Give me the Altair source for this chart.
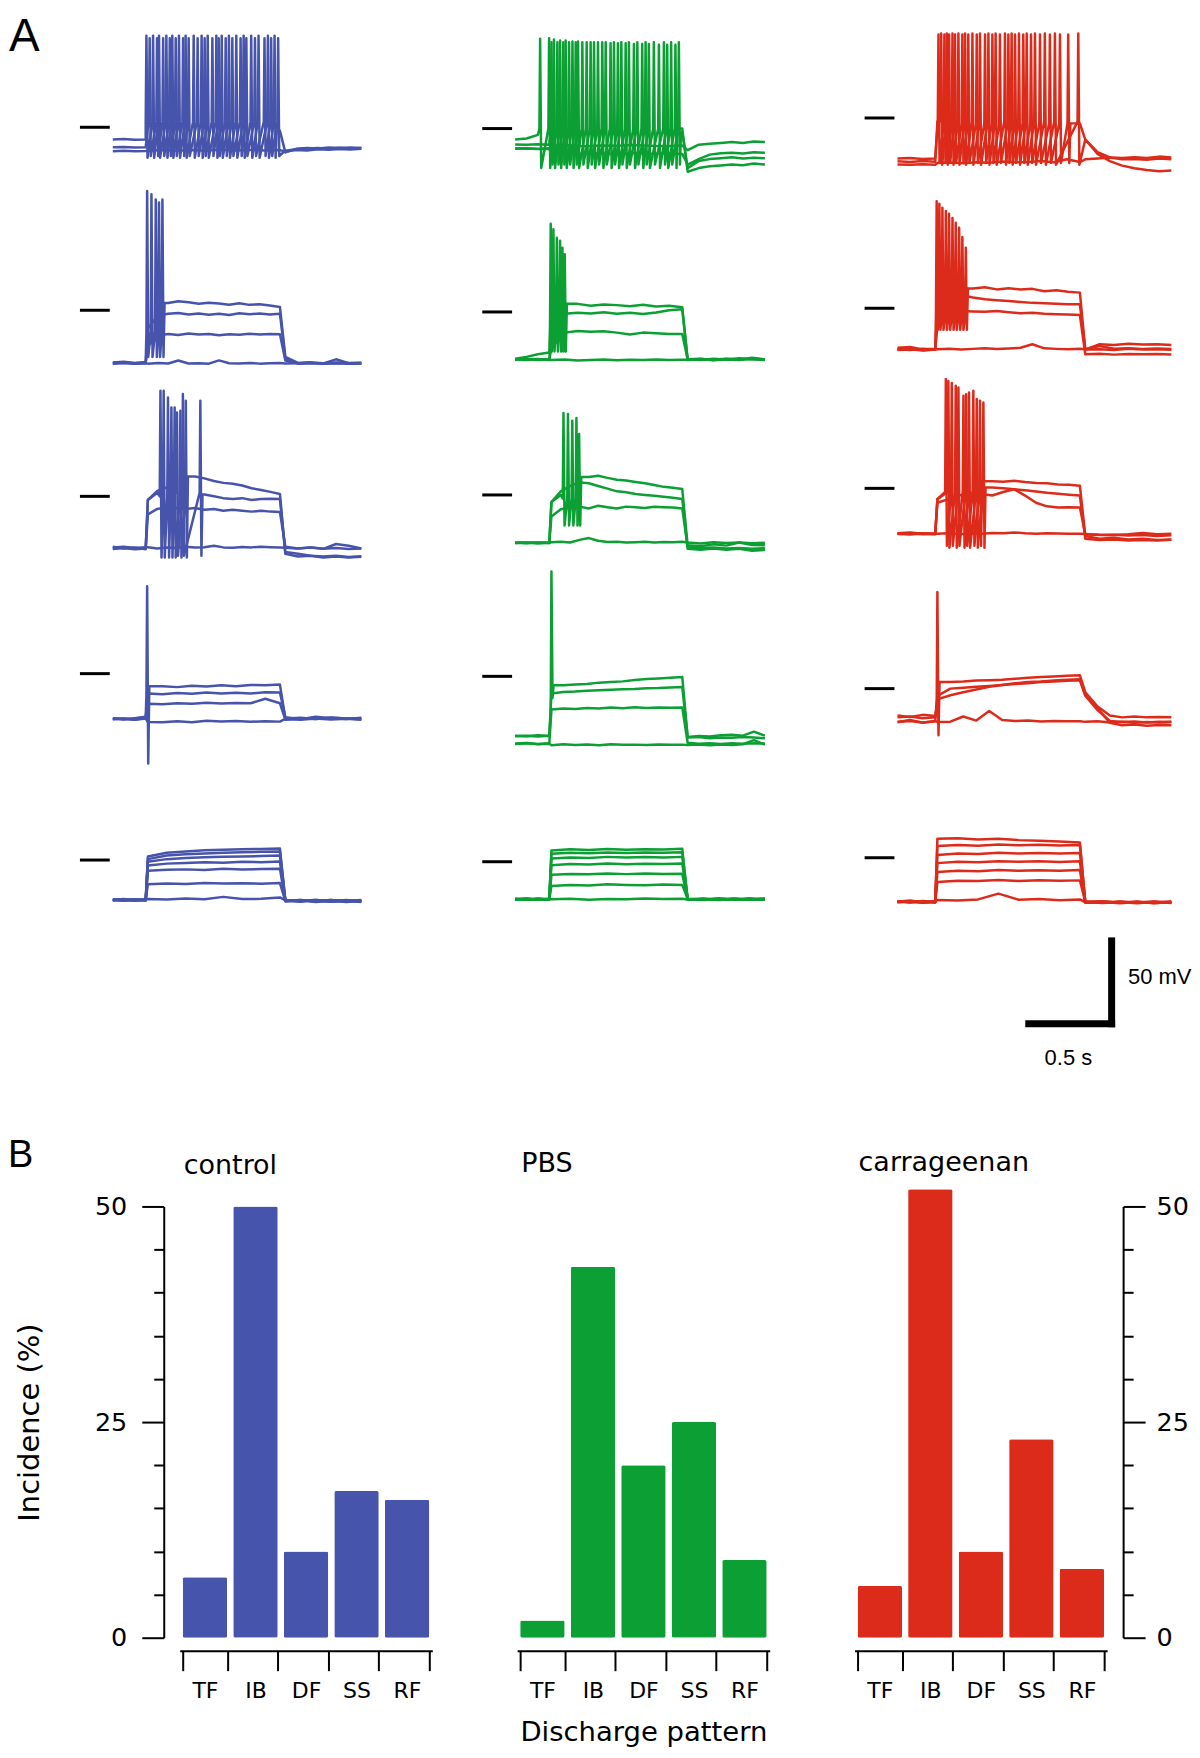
import altair as alt
import numpy as np
import pandas as pd

# ======================= Panel B data =======================
PATTERNS = ["TF", "IB", "DF", "SS", "RF"]
INC_CONTROL = [7, 50, 10, 17, 16]
INC_PBS = [2, 43, 20, 25, 9]
INC_CARRAGEENAN = [6, 52, 10, 23, 8]

# ======================= Panel A data =======================
# sweep timing (s) per group: step on, step off, end of sweep
STEP_ON = [0.183, 0.19, 0.21]
STEP_OFF = [0.93, 0.93, 1.015]
SWEEP_END = [1.383, 1.39, 1.524]
MARK_V = -60.0          # level of the short black reference bars (mv)
MARK_T = (-0.183, -0.017)


def tr(pre, plat, post, spikes=(), peaks=0.0, thr=0.0, ahp=0.0):
    return dict(pre=pre, plat=plat, post=post, spikes=list(spikes), peaks=peaks, thr=thr, ahp=ahp)


# ---- control (blue) ----
CONTROL_ROWS = [
    [
        tr([-66.8, -66.5, -66.9, -66.8], [-58, -62], [-74, -72, -71.5, -71.8, -71.2, -71.6, -71.3, -71.5],
           [0.187, 0.224, 0.257, 0.298, 0.331, 0.368, 0.405, 0.45, 0.494, 0.528, 0.576, 0.606, 0.646, 0.687,
            0.728, 0.77, 0.811, 0.863, 0.9], -9, -57, -77),
        tr([-71.1, -71, -71.3, -71.1], [-60, -62.5], [-73, -72.2, -71.8, -71.5, -72, -71.4, -71.8, -71.5],
           [0.205, 0.246, 0.28, 0.317, 0.35, 0.391, 0.422, 0.472, 0.511, 0.554, 0.589, 0.628, 0.665, 0.711,
            0.743, 0.791, 0.844, 0.881, 0.92], -10.5, -57, -76),
        tr([-73.3, -73.1, -73.4, -73.2], [-73, -72.6, -73.1, -72.7, -73, -72.5, -72.9, -72.6, -72.9, -72.7],
           [-73.5, -72.6, -72.9, -72.2, -72.5, -72.1, -72.4, -72.0]),
    ],
    [
        tr([-89, -88.6, -89.4, -88.8],
           [-70, -58, -56, -55, -55.6, -56.4, -55.8, -56.2, -56.9, -56.1, -57, -56.6, -57.4, -58.2],
           [-86, -89.3, -89, -89.5, -89.1, -89.4, -89.2],
           [0.191, 0.215, 0.239, 0.257, 0.276], [6.3, 4.5, 1.7, 0, 1.7], -72, -86),
        tr([-89.3, -89, -89.5, -89.2],
           [-70, -63, -62, -61.5, -62.3, -61.8, -62.5, -62, -62.6, -61.7, -62.2, -61.8, -62.4, -61.9],
           [-87, -89.5, -89.2, -89.6, -89.3, -89.5, -89.4]),
        tr([-89.5, -89.2, -89.6, -89.3],
           [-80, -74, -73.2, -73.8, -72.9, -73.5, -73.2, -73.9, -73.3, -73.6, -73.1, -73.5, -73.2, -73.4],
           [-88, -89.7, -89.4, -89.8, -89.5, -89.7, -89.6]),
        tr([-89.7, -89.4, -89.8, -89.5],
           [-89.7, -89.4, -89.6, -88, -89.6, -89.5, -89.7, -87.9, -89.5, -89.6, -89.3, -89.7, -89.5, -89.4],
           [-89.6, -89.5, -89.4, -89.6, -87.3, -89.5, -89.6]),
    ],
    [
        tr([-88, -89, -88.5, -89.5],
           [-62, -58, -55, -52, -50, -49, -50, -51.5, -52.5, -53, -54, -55.5, -56.5, -57.5, -58.7],
           [-92, -93.5, -93, -94, -93.5, -94, -93.6],
           [0.265, 0.283, 0.307, 0.326, 0.344, 0.376, 0.406], [-1.3, -1.3, -5, -10.6, -10.6, -12.4, -6.8], -60, -94),
        tr([-89, -88.4, -89.2, -88.7],
           [-62, -57, -55, -54, -55, -57, -59, -60, -61, -61.5, -61, -62, -61.5, -61.4, -61.5],
           [-91, -92, -93, -93.5, -93, -93.8, -93.4],
           [0.357, 0.39, 0.487], [-13.3, -3.1, -6.8], -58, -93),
        tr([-89.3, -88.8, -89.5, -89],
           [-70, -67, -66, -66.5, -67, -66.5, -67.5, -67, -68, -67.5, -68, -68.5, -68, -68.5, -68.7],
           [-88, -89, -88.5, -89.2, -86.5, -87.5, -89]),
        tr([-88.5, -88, -88.8, -88.3],
           [-88.3, -89, -88.5, -88.7, -88, -88.5, -88.3, -87.5, -88.4, -88.6, -88.2, -88.4, -88, -88.3, -88.5],
           [-88.6, -89, -88.4, -89.1, -88.7, -89.3, -89]),
    ],
    [
        tr([-85, -85.5, -84.8, -84], [-67.4, -67, -67.5, -66.8, -67.2, -66.5, -67, -66.3, -66.5, -66.1],
           [-85, -84.5, -85.2, -84.6, -85, -84.8], [0.191], [-11.3], -72, -110),
        tr([-85.2, -85, -85.6, -84.5], [-71.1, -71.5, -70.8, -71.2, -70.5, -71, -70.6, -71, -70.4, -70.5],
           [-84.3, -85.4, -84, -84.8, -85.2, -84.6]),
        tr([-84.8, -85.3, -85, -84.2], [-76.7, -77, -76.5, -76.8, -76.2, -76.6, -76.3, -76.5, -74, -76.5],
           [-85.6, -84.9, -85.3, -84.4, -85, -85.4]),
        tr([-85.4, -85.1, -85.7, -85], [-86.9, -87, -86.5, -87, -86.2, -86.6, -86.4, -86.8, -86.5, -86.7],
           [-85.2, -85.7, -84.9, -85.5, -85.1, -85.6]),
    ],
    [
        tr([-82.2, -81.8, -82.5, -82.0], [-81.7, -81.9, -81.4, -81.8, -80.5, -81.7, -81.6, -80.8],
           [-82.4, -83.0, -82.1, -83.2, -82.6, -83.4]),
        tr([-82.5, -82.0, -82.3, -81.8], [-73.5, -73, -73.3, -72.8, -73.1, -72.9, -73.2, -72.8],
           [-82.8, -82.2, -83.1, -82.5, -83.3, -82.7]),
        tr([-81.9, -82.4, -82.0, -82.6], [-66, -65.4, -65.2, -65.5, -64.9, -65.3, -65, -64.8],
           [-83.0, -82.5, -82.9, -82.2, -83.1, -82.6]),
        tr([-82.3, -81.7, -82.4, -82.1], [-63, -62, -61.6, -61.3, -61.5, -61, -61.2, -60.8],
           [-82.6, -83.2, -82.4, -82.9, -82.3, -83.0]),
        tr([-82.0, -82.5, -81.8, -82.3], [-61, -59.5, -58.9, -58.5, -58.2, -58, -57.8, -57.5],
           [-82.9, -82.3, -83.3, -82.6, -82.8, -82.2]),
        tr([-82.4, -82.1, -82.6, -81.9], [-59.5, -57.5, -56.8, -56.3, -56, -55.7, -55.4, -55.2],
           [-82.2, -82.8, -82.5, -83.2, -82.4, -82.9]),
        tr([-82.1, -82.6, -82.2, -82.4], [-58, -56, -55.2, -54.6, -54.3, -54, -53.8, -53.6],
           [-82.7, -82.4, -83.0, -82.3, -82.9, -82.5]),
    ],
]

# ---- PBS (green) ----
PBS_ROWS = [
    [
        tr([-66.1, -65.5, -63.5, -83], [-60, -60], [-84, -82, -81, -80.5, -80, -80.4, -79.5, -80],
           [0.139, 0.189, 0.216, 0.25, 0.281, 0.319, 0.35, 0.398, 0.439, 0.485, 0.531, 0.572, 0.615, 0.661,
            0.707, 0.744, 0.8, 0.846, 0.892],
           [-10, -9.7, -10.5, -11, -11, -11.5, -11.5, -12, -12, -12, -12.5, -12.5, -12.5, -13, -13, -13,
            -13.3, -13.3, -13.3], -60, -82),
        tr([-68.9, -69, -68.7, -69], [-62, -62], [-82, -78, -77, -76.5, -76, -76.7, -76.2, -76.5],
           [0.202, 0.235, 0.268, 0.3, 0.337, 0.374, 0.42, 0.461, 0.504, 0.55, 0.591, 0.633, 0.68, 0.726,
            0.772, 0.828, 0.868, 0.911], -12, -60, -80),
        tr([-71.1, -71, -71.3, -71], [-69.5, -69.3, -69.8, -69.4, -69.6, -69.2, -69.5, -69.8, -69.4],
           [-72, -69, -68.5, -68, -67.5, -68, -67.2, -67.5]),
        tr([-71.3, -71.1, -71.4, -71.2], [-74, -73.5, -74.2, -73.8, -74.4, -73.6, -74, -73.7, -74.1],
           [-80, -77, -74.5, -73.8, -73.5, -73.9, -73.2, -73.5]),
    ],
    [
        tr([-86, -85, -83.5, -82.6], [-70, -56, -55.5, -56.5, -55.8, -56.2, -56.8, -56, -57, -56.5, -57.4],
           [-86.3, -86, -86.8, -86.2, -86.5, -85.5, -86.4],
           [0.198, 0.213, 0.232, 0.25, 0.263, 0.276], [-10.9, -14, -18.7, -20.4, -24.2, -27.9], -68, -82),
        tr([-86.3, -86.5, -86.2, -86.5], [-72, -61, -60.4, -60.8, -60.2, -61, -60.5, -61.2, -60.3, -59, -58.5],
           [-86.8, -86.2, -86.6, -86, -86.5, -86.2, -86.7]),
        tr([-86.6, -86.2, -86.8, -86.4], [-80, -71.5, -70.6, -71, -70.8, -71.5, -72.5, -71.5, -71.8, -72.2, -72.2],
           [-86.4, -86.8, -86.1, -86.5, -85.8, -86.3, -86.6]),
        tr([-86.5, -86.8, -86.3, -86.7], [-86.8, -86.5, -87, -86.7, -86.4, -86.9, -86.6, -86.8, -86.5, -86.8, -86.6],
           [-86.6, -86.3, -86.9, -86.4, -86.7, -85.9, -86.5]),
    ],
    [
        tr([-86.7, -86.5, -86.9, -86.6],
           [-64, -60, -56, -52, -50, -49.3, -50.5, -51.5, -52, -52.8, -53.5, -54.5, -55.5, -56, -56.7],
           [-88, -88.5, -87.5, -88.2, -86.5, -87.8, -88],
           [0.269, 0.294, 0.318, 0.341, 0.356], [-14.4, -15, -18.7, -17.2, -26.1], -62, -77),
        tr([-86.5, -86.8, -86.4, -86.7],
           [-64, -58, -55, -53, -53.5, -55, -56.5, -58, -58.5, -59.5, -60, -60.5, -61, -61.5, -62.2],
           [-90, -90.5, -89.8, -90.5, -90, -91, -90.6]),
        tr([-86.8, -86.4, -86.9, -86.5],
           [-72, -68, -67, -66.5, -67.5, -66, -66.8, -67.5, -66.5, -66.9, -67.3, -66.6, -66.8, -67, -67.5],
           [-89, -89.5, -89.2, -89.8, -89.5, -90, -89.6]),
        tr([-86.6, -86.9, -86.5, -86.8],
           [-86.3, -86, -86.5, -85, -84, -85.5, -86.2, -86, -86.5, -86.3, -86, -86.4, -86.2, -86.3, -86.1],
           [-86.5, -87, -86.3, -86.8, -86.5, -86.9, -86.6]),
    ],
    [
        tr([-93.1, -93.4, -92.8, -93.2], [-66, -65, -64.5, -64.2, -63.5, -63.2, -62.8, -62, -61.5, -61.2, -60.8, -60.4],
           [-93.7, -93.2, -93.5, -92.8, -92.5, -93, -90.8, -93], [0.202], [-1.7], -80, -72),
        tr([-93.3, -93, -93.5, -93.1], [-69.5, -68.7, -68.5, -68, -67.8, -67.5, -67.2, -67, -66.6, -66.5, -66.2, -65.9],
           [-94, -93.8, -94.5, -94, -94.2, -93.8, -94, -94.5]),
        tr([-97.4, -97.1, -97.6, -97.3], [-78.5, -77.9, -78.2, -77.6, -77.9, -77.4, -77.8, -77.2, -77.6, -77.3, -77.5, -77.3],
           [-97, -97.5, -97.2, -97.6, -97.3, -97.5, -97.2, -97.4]),
        tr([-97.6, -97.3, -97.8, -97.5], [-98.3, -97.8, -98.2, -97.9, -98.3, -97.8, -98.1, -98, -98.2, -97.9, -98.1, -98],
           [-98.2, -97.9, -98.3, -98, -98.2, -97.8, -95.5, -98]),
    ],
    [
        tr([-80.9, -80.5, -81.2, -80.7], [-80.9, -80.6, -81.1, -80.7, -80.9, -80.5, -80.8, -80.6],
           [-81.0, -80.5, -81.2, -80.6, -81.1, -80.4]),
        tr([-80.6, -81.1, -80.8, -81.0], [-73.5, -72.9, -73.2, -72.6, -72.9, -73.1, -72.7, -72.9],
           [-80.7, -81.2, -80.6, -81.0, -80.5, -81.1]),
        tr([-81.1, -80.7, -81.0, -80.6], [-67.3, -66.8, -67, -66.5, -66.9, -66.6, -66.8, -66.7],
           [-81.2, -80.8, -81.3, -80.7, -81.0, -80.6]),
        tr([-80.8, -81.2, -80.6, -80.9], [-62, -61.3, -61.6, -61, -61.4, -61.1, -61.3, -61],
           [-80.6, -81.0, -80.5, -81.1, -80.8, -81.2]),
        tr([-81.0, -80.6, -81.1, -80.8], [-58.2, -57.6, -57.9, -57.3, -57.7, -57.4, -57.6, -57.3],
           [-80.9, -81.3, -80.7, -81.0, -80.6, -80.9]),
        tr([-80.7, -81.0, -80.5, -81.1], [-55.6, -55, -55.3, -54.8, -55.2, -54.9, -55, -54.7],
           [-81.1, -80.7, -81.0, -80.5, -81.2, -80.8]),
        tr([-80.9, -80.6, -81.2, -80.7], [-53.8, -53.1, -53.5, -52.9, -53.3, -53, -53.2, -52.8],
           [-80.8, -81.1, -80.6, -81.0, -80.7, -81.2]),
    ],
]

# ---- carrageenan (red) ----
CARR_ROWS = [
    [
        tr([-82.6, -82.3, -82.8, -82.5], [-63, -63], [-72, -80, -84, -86.5, -88, -89, -89.6, -89.2],
           [0.228, 0.261, 0.287, 0.32, 0.361, 0.394, 0.441, 0.487, 0.528, 0.57, 0.617, 0.654, 0.7, 0.743,
            0.793, 0.848, 0.904, 0.95], -13.5, -63, -85),
        tr([-84.1, -84.5, -84, -84.3], [-62, -62], [-72, -79, -82, -83, -82.8, -83.2, -82.5, -83],
           [0.243, 0.274, 0.306, 0.339, 0.376, 0.417, 0.459, 0.506, 0.546, 0.598, 0.635, 0.676, 0.719, 0.765,
            0.82, 0.876, 1.006], -13, -62, -86),
        tr([-85.9, -86, -85.7, -86], [-85, -84.8, -85.2, -84.6, -84.9, -84.2, -84.7, -84.5, -84, -84.6, -83, -84.5],
           [-83, -82.5, -82, -82.3, -81.8, -82.2, -81.5, -82]),
    ],
    [
        tr([-82, -81.5, -83, -82.5], [-60, -52, -48.6, -49, -48.3, -49.5, -48.8, -49.6, -49.2, -50.5, -50, -50.8, -51.3],
           [-83, -80, -80.5, -79.8, -80.2, -80, -80.4],
           [0.218, 0.233, 0.25, 0.269, 0.287, 0.306, 0.324, 0.343, 0.361, 0.38],
           [-0.4, -1.9, -4.1, -5.9, -7.4, -9.7, -12.4, -15.2, -20.4, -26.3], -64, -72),
        tr([-82.8, -83.2, -82.5, -83], [-62, -55, -52.6, -54, -55, -55.5, -56, -56.5, -57, -57.2, -57.5, -57.8, -57.8],
           [-83, -82.8, -83.2, -82.5, -83, -82.8, -83.1]),
        tr([-83, -82.6, -83.3, -82.9], [-70, -63, -61.5, -61.8, -62, -61.5, -62.2, -62.8, -62.5, -63, -63.3, -63.5, -63.8],
           [-85.6, -85.3, -85.8, -85.4, -85.6, -85.5, -85.7]),
        tr([-83.2, -82.8, -83.5, -83], [-82.8, -82.5, -83, -82.6, -82.2, -82.7, -82.4, -82, -80, -82.3, -82.6, -82.8, -82.5],
           [-82.8, -81, -82.5, -82.2, -82.6, -82.4, -82.7]),
    ],
    [
        tr([-85, -84.5, -85.3, -85.5], [-66, -63, -60, -58, -56.5, -56, -56.3, -55.8, -56.5, -57, -57.2, -57.8, -58, -58.5],
           [-86.5, -88, -87.5, -88.5, -88, -88.8, -88.4],
           [0.269, 0.302, 0.339, 0.382, 0.422, 0.459], [0.8, -1.4, -3.9, -7.6, -5.7, -11.3], -62, -92),
        tr([-85.3, -85.6, -85.1, -85.4], [-66, -63, -61, -60, -59, -59.5, -60, -60.5, -61, -61.8, -62.5, -63, -63.5, -64],
           [-88, -88.8, -88.5, -89, -88.7, -89, -88.6],
           [0.283, 0.324, 0.367, 0.398, 0.441, 0.478], [-0.2, -2.9, -8.5, -6.7, -10.3, -12.2], -62, -93),
        tr([-85.2, -85.5, -85, -85.3], [-68, -66, -64, -62.5, -63, -64, -62, -60.5, -64, -68, -70, -70.6, -70.5, -70.6],
           [-85.5, -86, -85.8, -86.3, -86, -86.5, -86.1]),
        tr([-85.4, -85.1, -85.6, -85.2], [-85.3, -85, -85.5, -85.1, -85.3, -84.8, -85, -84.5, -85, -85.2, -85, -85.1, -85.3, -85.2],
           [-85.4, -85.8, -86, -85.5, -84.8, -85.6, -85.3]),
    ],
    [
        tr([-76, -75.5, -76.5, -76], [-58, -56.3, -56, -55.5, -55.3, -55, -54.5, -54, -53.6, -53.2, -52.8, -52.6],
           [-62, -70, -75, -76, -75.5, -76, -75.8, -76], [0.222], [-6.3], -70, -86),
        tr([-78.6, -78, -78.8, -78.2], [-64, -60, -59.5, -59, -58.5, -58, -57.5, -57, -56.3, -56, -55.6, -55.4],
           [-64, -72, -78, -78.6, -78.3, -78.8, -78.5, -78.6]),
        tr([-75, -75.8, -74.6, -75.3], [-66, -63.7, -62, -60.5, -59, -58, -57, -56.3, -56, -55.5, -55, -54.8],
           [-63, -71, -79, -80.4, -80, -80.6, -80.2, -80.4]),
        tr([-78.6, -77.5, -79, -78], [-78.6, -78.4, -75.5, -77.8, -72.5, -77.5, -78, -77.8, -78.3, -78, -78.2, -78.1],
           [-78.5, -78.2, -78.8, -78.4, -79, -78.6, -78.9, -78.5]),
    ],
    [
        tr([-84.5, -83.8, -84.9, -84.2], [-83.5, -83.8, -83.2, -80, -83.4, -83, -83.6, -83.2],
           [-84.8, -84.2, -85.1, -84.5, -85.3, -84.7]),
        tr([-84.2, -84.8, -84.4, -85.0], [-73.5, -72.8, -73, -72.4, -72.9, -72.5, -72.8, -72.6],
           [-84.4, -85.0, -84.3, -84.9, -84.5, -85.2]),
        tr([-84.7, -84.3, -84.9, -84.4], [-68, -67.2, -67.5, -66.8, -67.3, -66.9, -67.2, -66.8],
           [-85.0, -84.6, -85.3, -84.7, -85.1, -84.5]),
        tr([-84.4, -84.9, -84.2, -84.7], [-63, -62.2, -62.5, -61.9, -62.3, -62, -62.4, -62],
           [-84.6, -85.2, -84.5, -85.0, -84.4, -84.9]),
        tr([-84.8, -84.4, -85.0, -84.5], [-58.5, -57.6, -57.9, -57.2, -57.7, -57.3, -57.6, -57.4],
           [-84.9, -84.4, -85.1, -84.6, -85.2, -84.8]),
        tr([-84.3, -84.7, -84.1, -84.6], [-53.5, -52.9, -53.3, -52.6, -53.1, -52.8, -53.2, -52.9],
           [-84.5, -85.0, -84.6, -85.3, -84.7, -85.0]),
        tr([-84.6, -84.2, -84.8, -84.3], [-49.5, -49.2, -49.8, -49.4, -50.2, -50.6, -51, -51.5],
           [-84.7, -84.3, -85.0, -84.5, -84.9, -84.4]),
    ],
]

ALL_ROWS = [CONTROL_ROWS, PBS_ROWS, CARR_ROWS]

# scale bar values
SCALE_T = 0.5   # s
SCALE_V = 50.0  # mV

# ======================= styles / layout =======================
COLORS = ["#4754AB", "#0C9F34", "#DC2B1B"]
FONT_A = "Liberation Sans"
FONT_B = "DejaVu Sans"
PX_PER_S = 180.0
PX_PER_MV = 1.8
RISE, FALL = 0.012, 0.03
ORIGIN_X = 180                           # page x shared by the left plot edge of both panels
LEFT_X = 8                               # page x of the left margin (panel letters)
COL_EDGE = [ORIGIN_X, 476, 861, 1190]    # page x of cell edges
T0_PAGE = [113, 516, 899]                # page x of sweep start
ROW_EDGE = [8, 178, 368, 566, 800, 920]  # page y of row edges
MARK_Y = [[126, 309.3, 495.7, 673.3, 860],
          [127.3, 311, 494.3, 676, 861.7],
          [116.7, 307.3, 487.7, 688.3, 857.7]]
SB_H = 170
SB_RIGHT_PAGE, SB_BASE_PAGE, SB_THICK = 1117, 1024, 7
BAR_W, BAR_H = 253, 432


def build_points(trd, on, off, end):
    base = []
    for t, v in zip(np.linspace(0.0, on, len(trd["pre"])), trd["pre"]):
        base.append((float(t), float(v), "pre"))
    for t, v in zip(np.linspace(on + RISE, off, len(trd["plat"])), trd["plat"]):
        base.append((float(t), float(v), "plat"))
    for t, v in zip(np.linspace(off + FALL, end, len(trd["post"])), trd["post"]):
        base.append((float(t), float(v), "post"))
    spikes = trd["spikes"]
    if not spikes:
        return [(t, v) for t, v, _ in base]
    peaks = trd["peaks"] if isinstance(trd["peaks"], (list, tuple)) else [trd["peaks"]] * len(spikes)
    lo, hi = spikes[0] - 0.006, spikes[-1] + 0.012
    out = []
    for t, v, kind in base:
        if kind == "plat" and lo <= t <= hi:
            continue
        if any(s - 0.0039 < t < s + 0.008 for s in spikes):
            continue
        out.append((t, v))
    after = [(t, v) for t, v, kind in base if kind == "plat" and t > hi]
    if after:
        out.append((spikes[-1] + 0.012, after[0][1]))
    for s, pk in zip(spikes, peaks):
        out += [(s - 0.004, trd["thr"]), (s, pk), (s + 0.006, trd["ahp"])]
    out.sort(key=lambda p: p[0])
    return out


def cell_chart(ci, ri):
    on, off, end = STEP_ON[ci], STEP_OFF[ci], SWEEP_END[ci]
    recs = []
    for k, trd in enumerate(ALL_ROWS[ci][ri]):
        for i, (t, v) in enumerate(build_points(trd, on, off, end)):
            recs.append({"trace": k, "i": i, "t": t, "v": v})
    df = pd.DataFrame(recs)
    w = COL_EDGE[ci + 1] - COL_EDGE[ci]
    h = ROW_EDGE[ri + 1] - ROW_EDGE[ri]
    x0 = (COL_EDGE[ci] - T0_PAGE[ci]) / PX_PER_S
    x1 = x0 + w / PX_PER_S
    vhi = MARK_V + (MARK_Y[ci][ri] - ROW_EDGE[ri]) / PX_PER_MV
    vlo = vhi - h / PX_PER_MV
    xs = alt.Scale(domain=[x0, x1], nice=False, zero=False)
    ys = alt.Scale(domain=[vlo, vhi], nice=False, zero=False)
    lines = alt.Chart(df).mark_line(color=COLORS[ci], strokeWidth=2.5, clip=(ci != 0),
                                    strokeJoin="round").encode(
        x=alt.X("t:Q", scale=xs, axis=None),
        y=alt.Y("v:Q", scale=ys, axis=None),
        detail="trace:N",
        order="i:Q",
    )
    mk = alt.Chart(pd.DataFrame({"t0": [MARK_T[0]], "t1": [MARK_T[1]], "v": [MARK_V]})).mark_rule(
        color="black", strokeWidth=3).encode(
        x=alt.X("t0:Q", scale=xs, axis=None), x2="t1:Q",
        y=alt.Y("v:Q", scale=ys, axis=None))
    layers = [lines, mk]
    if ci == 0 and ri == 0:
        layers.append(alt.Chart(pd.DataFrame({"s": ["A"]})).mark_text(
            font=FONT_A, fontSize=46, align="left", baseline="alphabetic", color="black").encode(
            text="s:N", x=alt.value(LEFT_X - ORIGIN_X + 1), y=alt.value(42)))
    return alt.layer(*layers).properties(width=w, height=h)


rows = []
for ri in range(5):
    rows.append(alt.hconcat(*[cell_chart(ci, ri) for ci in range(3)], spacing=0))

# ---- scale bar row ----
sb_w = COL_EDGE[3] - COL_EDGE[0]
sb_x0 = (COL_EDGE[0] - T0_PAGE[2]) / PX_PER_S
sbx = alt.Scale(domain=[sb_x0, sb_x0 + sb_w / PX_PER_S], nice=False, zero=False)
sb_vhi = (SB_BASE_PAGE - ROW_EDGE[5]) / PX_PER_MV
sby = alt.Scale(domain=[sb_vhi - SB_H / PX_PER_MV, sb_vhi], nice=False, zero=False)
t_end = (SB_RIGHT_PAGE - T0_PAGE[2]) / PX_PER_S
half_t = SB_THICK / 2 / PX_PER_S
half_v = SB_THICK / 2 / PX_PER_MV
hbar = alt.Chart(pd.DataFrame({"a": [t_end - SCALE_T], "b": [t_end], "v": [0.0]})).mark_rule(
    color="black", strokeWidth=SB_THICK).encode(
    x=alt.X("a:Q", scale=sbx, axis=None), x2="b:Q", y=alt.Y("v:Q", scale=sby, axis=None))
vbar = alt.Chart(pd.DataFrame({"t": [t_end - half_t], "a": [-half_v], "b": [SCALE_V - half_v]})).mark_rule(
    color="black", strokeWidth=SB_THICK).encode(
    x=alt.X("t:Q", scale=sbx, axis=None), y=alt.Y("a:Q", scale=sby, axis=None), y2="b:Q")
mv_text = alt.Chart(pd.DataFrame({"t": [t_end + 0.072], "v": [SCALE_V / 2 + 1],
                                  "s": ["%d mV" % SCALE_V]})).mark_text(
    font=FONT_A, fontSize=22, baseline="middle", align="left", color="black").encode(
    x=alt.X("t:Q", scale=sbx, axis=None), y=alt.Y("v:Q", scale=sby, axis=None), text="s:N")
s_text = alt.Chart(pd.DataFrame({"t": [t_end - SCALE_T / 2 - 0.01], "v": [-19.0],
                                 "s": ["%.1f s" % SCALE_T]})).mark_text(
    font=FONT_A, fontSize=22, baseline="middle", align="center", color="black").encode(
    x=alt.X("t:Q", scale=sbx, axis=None), y=alt.Y("v:Q", scale=sby, axis=None), text="s:N")
scalebar = alt.layer(hbar, vbar, mv_text, s_text).properties(width=sb_w, height=SB_H)

panel_a = alt.vconcat(*rows, scalebar, spacing=0)

# ======================= Panel B =======================
YTICKS = list(range(0, 51, 5))
TICK_COND = {"condition": {"test": "datum.value % 25 === 0", "value": 22}, "value": 10}
LABEL_EXPR = "datum.value % 25 === 0 ? datum.label : ''"


def bar_panel(name, values, color, yside, title_offset, xtitle=None, letter=False):
    df = pd.DataFrame({"pattern": PATTERNS, "value": values})
    xkw = dict(labelAngle=0, tickBand="extent", offset=13, tickSize=20, tickWidth=2, domainWidth=2,
               domainColor="black", tickColor="black", labelColor="black", labelFont=FONT_B,
               labelFontSize=22, labelPadding=10, grid=False)
    if xtitle:
        xkw.update(title=xtitle, titleFont=FONT_B, titleFontSize=27.5, titleFontWeight="normal",
                   titleColor="black", titlePadding=17)
    else:
        xkw.update(title=None)
    yscale = alt.Scale(domain=[0, 50], nice=False, zero=True)
    if yside is None:
        y = alt.Y("value:Q", scale=yscale, axis=None)
    else:
        ykw = dict(orient=yside, values=YTICKS, tickSize=TICK_COND, labelExpr=LABEL_EXPR, grid=False,
                   tickWidth=2, domainWidth=2, domainColor="black", tickColor="black", labelColor="black",
                   labelFont=FONT_B, labelFontSize=25.5)
        if yside == "left":
            ykw.update(offset=16, labelPadding=15, title="Incidence (%)", titleFont=FONT_B, titleFontSize=29,
                       titleFontWeight="normal", titleColor="black", titlePadding=50)
        else:
            ykw.update(offset=16, labelPadding=11, title=None)
        y = alt.Y("value:Q", scale=yscale, axis=alt.Axis(**ykw))
    bars = alt.Chart(df).mark_bar(color=color, cornerRadius=2).encode(
        x=alt.X("pattern:N", sort=PATTERNS,
                scale=alt.Scale(paddingInner=0.12, paddingOuter=0.06), axis=alt.Axis(**xkw)),
        y=y,
    )
    layers = [bars]
    if letter:
        layers.append(alt.Chart(pd.DataFrame({"s": ["B"]})).mark_text(
            font=FONT_A, fontSize=38, align="left", baseline="alphabetic", color="black").encode(
            text="s:N", x=alt.value(LEFT_X - ORIGIN_X), y=alt.value(-40)))
    title = alt.TitleParams(text=name, anchor="start", frame="group", dx=4, offset=title_offset,
                            baseline="alphabetic", font=FONT_B, fontSize=27, fontWeight="normal",
                            color="black")
    return alt.layer(*layers).properties(width=BAR_W, height=BAR_H, title=title)


panel_b = alt.hconcat(
    bar_panel("control", INC_CONTROL, COLORS[0], "left", -64, letter=True),
    bar_panel("PBS", INC_PBS, COLORS[1], None, 8, xtitle="Discharge pattern"),
    bar_panel("carrageenan", INC_CARRAGEENAN, COLORS[2], "right", -9),
    spacing=85,
)

chart = alt.concat(panel_a, panel_b, columns=1, spacing=47, align="none").properties(
    padding=0).configure_view(strokeWidth=0)

chart.save("out.html", embed_options={"renderer": "svg", "actions": False})
